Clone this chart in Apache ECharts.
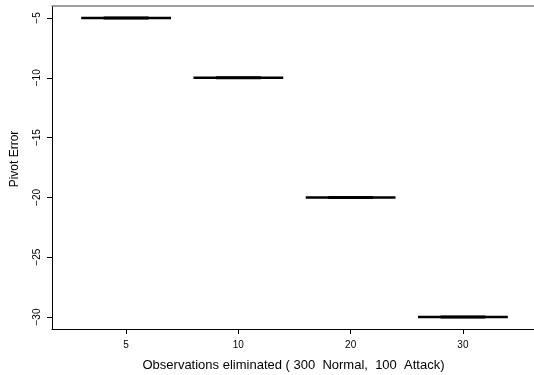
<!DOCTYPE html>
<html>
<head>
<meta charset="utf-8">
<script src="https://cdn.jsdelivr.net/npm/echarts@6/dist/echarts.min.js"></script>
<style>html,body{margin:0;padding:0;background:#fff;overflow:hidden;}#c{width:534px;height:375px;}</style>
</head>
<body>
<div id="c"></div>
<script>
const categories = ['5', '10', '20', '30'];
const pivotError = [-5, -10, -20, -30];
const yTicks = [-30, -25, -20, -15, -10, -5];
const xPositions = [1, 2, 3, 4];

const chart = echarts.init(document.getElementById('c'), null, {renderer: 'canvas'});
const FONT = '"Liberation Sans", Arial, Helvetica, sans-serif';

const data = pivotError.map((v, i) => [xPositions[i], v]);

chart.setOption({
  animation: false,
  backgroundColor: '#fff',
  grid: {
    left: 52, top: 6, width: 485, height: 323, show: false,
    outerBoundsMode: 'none', containLabel: false
  },
  xAxis: [{
    type: 'value', min: 0.34, max: 4.66,
    splitLine: {show: false},
    axisLine: {show: true, onZero: false, lineStyle: {color: '#000', width: 1}},
    axisTick: {show: true, length: 5, inside: false, customValues: xPositions, lineStyle: {color: '#000'}},
    axisLabel: {
      show: true, customValues: xPositions, margin: 11, color: '#000', fontSize: 10, fontFamily: FONT,
      formatter: v => categories[Math.round(v) - 1]
    }
  }, {
    type: 'value', min: 0.34, max: 4.66, position: 'top',
    splitLine: {show: false},
    axisLine: {show: true, onZero: false, lineStyle: {color: '#808080', width: 1.5}},
    axisTick: {show: false},
    axisLabel: {show: false}
  }],
  yAxis: {
    type: 'value', min: -31, max: -4,
    splitLine: {show: false},
    axisLine: {show: true, onZero: false, lineStyle: {color: '#000', width: 1}},
    axisTick: {show: true, length: 5, inside: false, customValues: yTicks, lineStyle: {color: '#000'}},
    axisLabel: {
      show: true, customValues: yTicks, rotate: 90, margin: 10, color: '#000', fontSize: 10, fontFamily: FONT,
      formatter: v => String(v).replace('-', '\u2212')
    }
  },
  series: [{
    type: 'custom',
    xAxisIndex: 0,
    data: data,
    renderItem: function (params, api) {
      const x = api.value(0), y = api.value(1);
      const p1 = api.coord([x - 0.4, y]), p2 = api.coord([x + 0.4, y]);
      const q1 = api.coord([x - 0.2, y]), q2 = api.coord([x + 0.2, y]);
      return {
        type: 'group',
        children: [
          {type: 'line', shape: {x1: p1[0], y1: p1[1], x2: p2[0], y2: p2[1]}, style: {stroke: '#000', lineWidth: 2.5}},
          {type: 'line', shape: {x1: q1[0], y1: q1[1], x2: q2[0], y2: q2[1]}, style: {stroke: '#000', lineWidth: 3}}
        ]
      };
    }
  }],
  graphic: [
    {type: 'text', x: 293.5, y: 365,
     style: {text: 'Observations eliminated ( 300  Normal,  100  Attack)', font: '13px ' + FONT, fill: '#000', textAlign: 'center', textVerticalAlign: 'middle'}},
    {type: 'text', x: 15, y: 159, rotation: Math.PI / 2,
     style: {text: 'Pivot Error', font: '12px ' + FONT, fill: '#000', textAlign: 'center', textVerticalAlign: 'middle'}}
  ]
});
</script>
</body>
</html>
